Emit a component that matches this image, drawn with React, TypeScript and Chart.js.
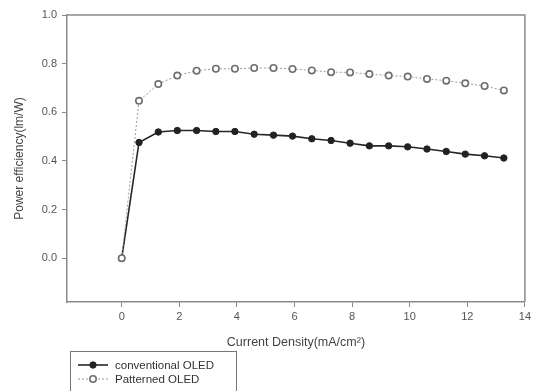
import React, { useEffect, useRef } from 'react';
import { Chart, registerables } from 'chart.js';

Chart.register(...registerables);

// Current density (mA/cm²)
const currentDensity = [0, 0.6, 1.27, 1.93, 2.6, 3.27, 3.93, 4.6, 5.27, 5.93, 6.6, 7.27, 7.93, 8.6, 9.27, 9.93, 10.6, 11.27, 11.93, 12.6, 13.27];
// Power efficiency (lm/W)
const conventionalOLED = [0, 0.476, 0.519, 0.525, 0.525, 0.521, 0.521, 0.51, 0.506, 0.502, 0.491, 0.484, 0.473, 0.462, 0.462, 0.458, 0.449, 0.439, 0.428, 0.421, 0.412];
const patternedOLED = [0, 0.647, 0.716, 0.751, 0.771, 0.779, 0.779, 0.782, 0.782, 0.778, 0.772, 0.765, 0.764, 0.757, 0.751, 0.747, 0.737, 0.73, 0.719, 0.708, 0.69];

const xTickValues = [0, 2, 4, 6, 8, 10, 12, 14];
const yTickValues = [0, 0.2, 0.4, 0.6, 0.8, 1.0];

const seriesNames = ['conventional OLED', 'Patterned OLED'];
const xTitle = 'Current Density(mA/cm²)';
const yTitle = 'Power efficiency(lm/W)';

const FONT = '"Liberation Sans", Arial, Helvetica, sans-serif';

const frameAndLegend = {
  id: 'frameAndLegend',
  afterDatasetsDraw(chart: any) {
    const { ctx, chartArea } = chart;
    ctx.save();
    ctx.strokeStyle = '#8a8a8a';
    ctx.lineWidth = 1.5;
    ctx.beginPath();
    ctx.moveTo(chartArea.left, chartArea.top);
    ctx.lineTo(chartArea.right, chartArea.top);
    ctx.lineTo(chartArea.right, chartArea.bottom);
    ctx.stroke();
    ctx.restore();
  },
  afterDraw(chart: any) {
    const { ctx } = chart;
    ctx.save();
    ctx.strokeStyle = '#777';
    ctx.lineWidth = 1;
    ctx.strokeRect(70.5, 351.5, 166, 60);
    const rows = [365, 379];
    rows.forEach((y, i) => {
      const ds = chart.data.datasets[i];
      ctx.beginPath();
      ctx.strokeStyle = ds.borderColor;
      ctx.lineWidth = ds.borderWidth;
      ctx.setLineDash(ds.borderDash || []);
      ctx.moveTo(78, y);
      ctx.lineTo(108, y);
      ctx.stroke();
      ctx.setLineDash([]);
      ctx.beginPath();
      ctx.arc(93, y, 3.2, 0, Math.PI * 2);
      ctx.fillStyle = ds.pointBackgroundColor;
      ctx.fill();
      ctx.strokeStyle = ds.pointBorderColor;
      ctx.lineWidth = ds.pointBorderWidth;
      ctx.stroke();
      ctx.fillStyle = '#333';
      ctx.font = `11.5px ${FONT}`;
      ctx.textBaseline = 'middle';
      ctx.textAlign = 'left';
      ctx.fillText(seriesNames[i], 115, y + 0.5);
    });
    ctx.restore();
  },
};

export default function App() {
  const ref = useRef<HTMLCanvasElement | null>(null);

  useEffect(() => {
    document.body.style.margin = '0';
    const canvas = ref.current;
    if (!canvas) return;
    const chart = new Chart(canvas, {
      type: 'line',
      data: {
        datasets: [
          {
            label: seriesNames[0],
            data: currentDensity.map((x, i) => ({ x, y: conventionalOLED[i] })),
            borderColor: '#262626',
            borderWidth: 1.6,
            pointRadius: 3.2,
            pointBackgroundColor: '#222',
            pointBorderColor: '#222',
            pointBorderWidth: 1,
            order: 1,
          },
          {
            label: seriesNames[1],
            data: currentDensity.map((x, i) => ({ x, y: patternedOLED[i] })),
            borderColor: '#9a9a9a',
            borderWidth: 1,
            borderDash: [2, 2],
            pointRadius: 3.2,
            pointBackgroundColor: '#ffffff',
            pointBorderColor: '#6e6e6e',
            pointBorderWidth: 1.6,
            order: 0,
          },
        ],
      },
      options: {
        responsive: false,
        animation: false,
        devicePixelRatio: 1,
        layout: { padding: { top: 15, right: 8, left: 0, bottom: 0 } },
        plugins: { legend: { display: false }, tooltip: { enabled: false } },
        scales: {
          x: {
            type: 'linear',
            min: -1.9,
            max: 14,
            afterBuildTicks: (s: any) => {
              s.ticks = xTickValues.map((v) => ({ value: v }));
            },
            afterFit: (s: any) => {
              s.height = 89;
            },
            grid: { drawOnChartArea: false, drawTicks: true, tickLength: 5, color: '#8a8a8a', lineWidth: 1 },
            border: { display: true, color: '#8a8a8a', width: 1.5 },
            ticks: {
              color: '#555',
              font: { family: FONT, size: 11 },
              padding: 3,
              maxRotation: 0,
              autoSkip: false,
              callback: (v: any) => String(v),
            },
            title: {
              display: true,
              text: xTitle,
              color: '#444',
              font: { family: FONT, size: 12.5 },
              padding: { top: 0, bottom: 41 },
            },
          },
          y: {
            type: 'linear',
            min: -0.18,
            max: 1.0,
            afterBuildTicks: (s: any) => {
              s.ticks = yTickValues.map((v) => ({ value: v }));
            },
            afterFit: (s: any) => {
              s.width = 67;
            },
            grid: { drawOnChartArea: false, drawTicks: true, tickLength: 5, color: '#8a8a8a', lineWidth: 1 },
            border: { display: true, color: '#8a8a8a', width: 1.5 },
            ticks: {
              color: '#555',
              font: { family: FONT, size: 11 },
              padding: 5,
              autoSkip: false,
              callback: (v: any) => Number(v).toFixed(1),
            },
            title: {
              display: true,
              text: yTitle,
              color: '#444',
              font: { family: FONT, size: 12 },
              padding: { top: 12, bottom: 0 },
            },
          },
        },
      },
      plugins: [frameAndLegend],
    });
    return () => chart.destroy();
  }, []);

  return (
    <div style={{ position: 'fixed', left: 0, top: 0, width: 534, height: 391, background: '#fff' }}>
      <canvas ref={ref} width={534} height={391} style={{ display: 'block', width: 534, height: 391 }} />
    </div>
  );
}
